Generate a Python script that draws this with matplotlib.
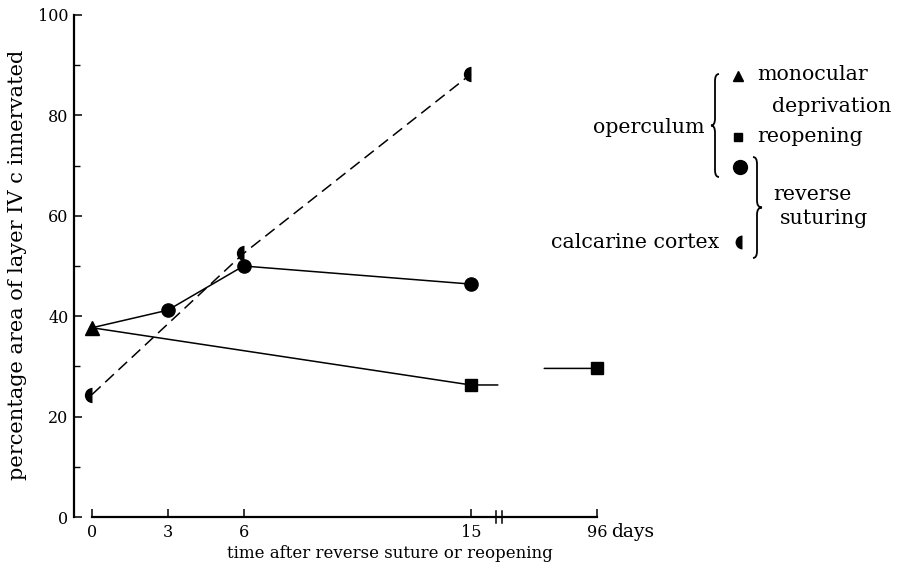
import numpy as np
import matplotlib
matplotlib.use("Agg")
import matplotlib.pyplot as plt
import matplotlib.transforms as mtransforms
from matplotlib.path import Path
from matplotlib.patches import PathPatch
from matplotlib.lines import Line2D

plt.rcParams['font.family'] = ['DejaVu Serif']
plt.rcParams['lines.scale_dashes'] = False

# ---------------- data ----------------
days_mono = [0]
pct_mono = [37.7]                      # monocular deprivation (triangle)

days_reverse_op = [3, 6, 15]
pct_reverse_op = [41.2, 50.0, 46.4]    # reverse suturing, operculum (circle)

days_reopen = [15, 96]
pct_reopen = [26.3, 29.6]              # reopening, operculum (square)

days_calc = [0, 6, 15]
pct_calc = [24.4, 52.5, 88.2]          # reverse suturing, calcarine cortex (half circle)

x_ticks = [0, 3, 6, 15, 96]
x_tick_labels = ['0', '3', '6', '15', '96']
y_ticks = [0, 20, 40, 60, 80, 100]
y_minor_ticks = [10, 30, 50, 70, 90]

# ------------- broken x scale (15 -> 96 compressed) -------------
BREAK_START = 15.0
BREAK_SPAN = 81.0
BREAK_WIDTH = 5.0
BREAK_MARK_DAY = 33.0

def fwd(x):
    x = np.asarray(x, dtype=float)
    return np.where(x <= BREAK_START, x, BREAK_START + (x - BREAK_START) * BREAK_WIDTH / BREAK_SPAN)

def inv(y):
    y = np.asarray(y, dtype=float)
    return np.where(y <= BREAK_START, y, BREAK_START + (y - BREAK_START) * BREAK_SPAN / BREAK_WIDTH)

W, H = 897, 569
fig = plt.figure(figsize=(W / 100, H / 100), dpi=100)
ax = fig.add_axes([74 / W, (H - 517) / H, 523 / W, 502 / H])
ax.set_xscale('function', functions=(fwd, inv))
ax.set_xlim(-0.714, 96)
ax.set_ylim(0, 100)

LW = 1.1
# lines
ax.plot(days_mono + days_reverse_op, pct_mono + pct_reverse_op, color='k', lw=LW, zorder=2)
ax.plot(days_mono + days_reopen[:1], pct_mono + pct_reopen[:1], color='k', lw=LW, zorder=2)
ax.plot(days_calc, pct_calc, color='k', lw=LW, ls=(0, (8.5, 4.5)), zorder=2)

# short stubs either side of the time break for the reopening series
stub_len = [19.5, -38.0]
for d, p, L in zip(days_reopen, pct_reopen, stub_len):
    ax.annotate('', xy=(d, p), xycoords='data', xytext=(L, 0), textcoords='offset points',
                arrowprops=dict(arrowstyle='-', lw=LW, color='k', shrinkA=0, shrinkB=0),
                annotation_clip=False)

# markers
ax.plot(days_mono, pct_mono, ls='none', marker='^', ms=9.5, color='k', zorder=4)
ax.plot(days_reverse_op, pct_reverse_op, ls='none', marker='o', ms=9.5, color='k', zorder=4)
ax.plot(days_reopen, pct_reopen, ls='none', marker='s', ms=8.5, color='k', zorder=4, clip_on=False)
ax.plot(days_calc, pct_calc, ls='none', marker='o', ms=11, fillstyle='left',
        markerfacecolor='k', markerfacecoloralt='none', mew=0, zorder=4)

# spines & ticks
for s in ['top', 'right']:
    ax.spines[s].set_visible(False)
ax.spines['left'].set_linewidth(1.6)
ax.spines['bottom'].set_linewidth(1.6)
ax.spines['bottom'].set_bounds(0, 96)

ax.set_yticks(y_ticks)
ax.set_yticks(y_minor_ticks, minor=True)
ax.set_xticks(x_ticks)
ax.set_xticklabels(x_tick_labels)
ax.xaxis.set_minor_locator(matplotlib.ticker.NullLocator())
ax.tick_params(axis='y', which='major', direction='in', length=6, width=1.1, labelsize=11.5, pad=4)
ax.tick_params(axis='y', which='minor', direction='in', length=4, width=1.0)
ax.tick_params(axis='x', which='major', direction='in', length=6, width=1.1, labelsize=11.5, pad=5)

ax.annotate('days', xy=(96, 0), xycoords='data', xytext=(10, -4.5), textcoords='offset points',
            ha='left', va='top', fontsize=13.5, annotation_clip=False)

# axis break mark (two small slanted strokes)
bt = mtransforms.blended_transform_factory(ax.transData, ax.transAxes)
for dx in (-2.2, 2.2):
    off = mtransforms.ScaledTranslation(dx / 72, 0, fig.dpi_scale_trans)
    skew = mtransforms.ScaledTranslation(0, 0, fig.dpi_scale_trans)
    ax.add_line(Line2D([BREAK_MARK_DAY, BREAK_MARK_DAY], [-0.012, 0.012], color='k', lw=1.1,
                       transform=bt + off + skew, clip_on=False))

# labels
fig.text(390 / W, 1 - 553 / H, 'time after reverse suture or reopening', ha='center', va='center', fontsize=12)
fig.text(18 / W, 1 - 265 / H, 'percentage area of layer IV c innervated', ha='center', va='center',
         rotation=90, fontsize=15)

# ---------------- key ----------------
def fx(x):
    return x / W

def fy(y):
    return 1 - y / H

KEY_FS = 14.8
fig.add_artist(Line2D([fx(738)], [fy(76)], marker='^', ms=6.5, color='k', transform=fig.transFigure))
fig.add_artist(Line2D([fx(738)], [fy(137)], marker='s', ms=6, color='k', transform=fig.transFigure))
fig.add_artist(Line2D([fx(740)], [fy(167)], marker='o', ms=10, color='k', transform=fig.transFigure))
fig.add_artist(Line2D([fx(742)], [fy(242)], marker='o', ms=10, fillstyle='left', markerfacecolor='k',
                      markerfacecoloralt='none', mew=0, transform=fig.transFigure))

fig.text(fx(757), fy(75), 'monocular', ha='left', va='center', fontsize=KEY_FS)
fig.text(fx(772), fy(106), 'deprivation', ha='left', va='center', fontsize=KEY_FS)
fig.text(fx(757), fy(136), 'reopening', ha='left', va='center', fontsize=KEY_FS)
fig.text(fx(704), fy(127), 'operculum', ha='right', va='center', fontsize=KEY_FS)
fig.text(fx(773), fy(194), 'reverse', ha='left', va='center', fontsize=KEY_FS)
fig.text(fx(780), fy(219), 'suturing', ha='left', va='center', fontsize=KEY_FS)
fig.text(fx(719), fy(242), 'calcarine cortex', ha='right', va='center', fontsize=KEY_FS)

def brace(x, y_top, y_bot, tip, curl, q=7):
    ym = (y_top + y_bot) / 2
    pts = [(x + curl, y_top), (x, y_top), (x, y_top + q), (x, ym - q), (x, ym), (x + tip, ym),
           (x, ym), (x, ym + q), (x, y_bot - q), (x, y_bot), (x + curl, y_bot)]
    codes = [Path.MOVETO, Path.CURVE3, Path.CURVE3, Path.LINETO, Path.CURVE3, Path.CURVE3,
             Path.CURVE3, Path.CURVE3, Path.LINETO, Path.CURVE3, Path.CURVE3]
    verts = [(fx(a), fy(b)) for a, b in pts]
    fig.add_artist(PathPatch(Path(verts, codes), fill=False, lw=1.3, edgecolor='k',
                             transform=fig.transFigure))

brace(715, 74, 177, -4, 4)
brace(757, 157, 258, 5, -4)

fig.savefig('out.png', dpi=100)
